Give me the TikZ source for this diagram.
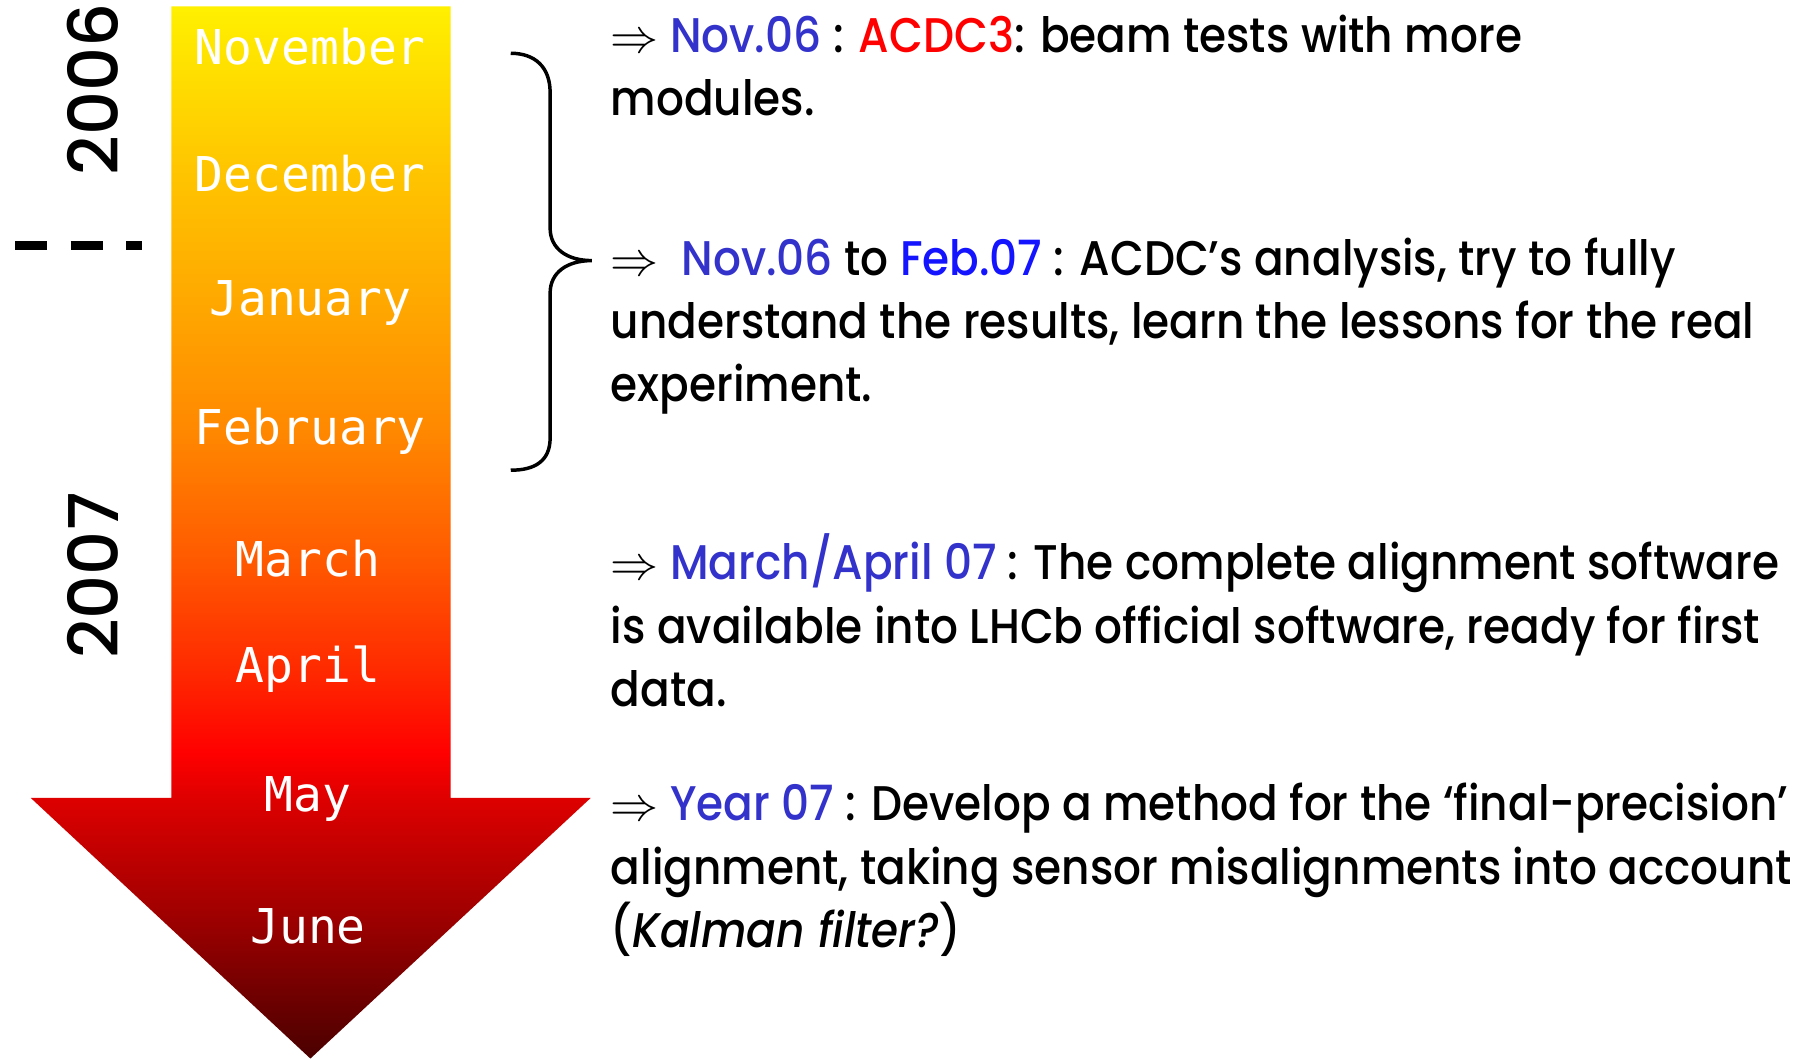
\documentclass[tikz,border=0pt]{standalone}
\usepackage{fontspec}
\setmainfont{Poppins}[UprightFont=* Medium, ItalicFont=* Medium Italic, FakeStretch=0.9]
\newfontfamily\monthfont{DejaVu Sans Mono}
\newfontfamily\yearfont{Poppins Medium}
\usetikzlibrary{positioning}

\definecolor{date_blue}{RGB}{51,51,204}
\definecolor{feb_blue}{RGB}{20,20,255}
\definecolor{acdc_red}{RGB}{255,0,0}
\definecolor{shade_tip}{RGB}{74,0,0}
\definecolor{shade_june}{RGB}{153,0,0}
\definecolor{shade_may}{RGB}{221,0,0}
\definecolor{shade_red}{RGB}{255,0,0}
\definecolor{shade_april}{RGB}{255,42,0}
\definecolor{shade_march}{RGB}{255,90,0}
\definecolor{shade_feb}{RGB}{255,136,0}
\definecolor{shade_jan}{RGB}{255,168,0}
\definecolor{shade_dec}{RGB}{255,196,0}
\definecolor{shade_top}{RGB}{255,240,0}

\pgfdeclareverticalshading{timeline_shade}{100bp}{color(0bp)=(shade_tip); color(25bp)=(shade_tip); color(31.3bp)=(shade_june); color(37.3bp)=(shade_may); color(39.5bp)=(shade_red); color(43.5bp)=(shade_april); color(48.8bp)=(shade_march); color(54.8bp)=(shade_feb); color(60.9bp)=(shade_jan); color(67bp)=(shade_dec); color(75bp)=(shade_top); color(100bp)=(shade_top)}

\begin{document}
\begin{tikzpicture}[x=0.5pt, y=-0.5pt,
    month_label/.style={text=white, font=\monthfont\fontsize{20.7}{24}\selectfont, inner sep=0pt},
    year_label/.style={rotate=90, font=\yearfont\fontsize{29.7}{32}\selectfont, inner sep=0pt},
    note_text/.style={anchor=base west, align=left, inner sep=0pt, font=\fontsize{21}{27.35}\selectfont}]

    \useasboundingbox (0,0) rectangle (1568,915);

    % --- Begin Arrow ---
    \shade[shading=timeline_shade] (148,5.4) -- (389,5.4) -- (389,689) -- (510,689)
        -- (268,914) -- (26.6,689) -- (148,689) -- cycle;

    \node [month_label] (November) at (268,40) {November};
    \node [month_label] (December) at (268,150) {December};
    \node [month_label] (January) at (268,262) {January};
    \node [month_label] (February) at (268,372) {February};
    \node [month_label] (March) at (266,482) {March};
    \node [month_label] (April) at (266,578) {April};
    \node [month_label] (May) at (266,690) {May};
    \node [month_label] (June) at (266,800) {June};
    % --- End Arrow ---

    % --- Begin Years ---
    \node [year_label] (year_2006) at (80,77) {2006};
    \node [year_label] (year_2007) at (80,497) {2007};

    % Split between the two years.
    \coordinate (split_left) at (13,212);
    \coordinate (split_right) at (123,212);
    \draw [line width=3.5pt, dash pattern=on 14pt off 10pt] (split_left) -- (split_right);
    % --- End Years ---

    % --- Begin Brace ---
    \coordinate (brace_top) at (441,46);
    \coordinate (brace_tip) at (511,225);
    \coordinate (brace_bottom) at (441,406);
    \draw [line width=1.5pt] (brace_top) .. controls +(21,0) and +(0,-22) .. (475,80) -- (475,197)
        .. controls +(0,18) and +(-21,0) .. (brace_tip)
        .. controls +(-21,0) and +(0,-18) .. (475,253) -- (475,378)
        .. controls +(0,20) and +(21,0) .. (brace_bottom);
    % --- End Brace ---

    % --- Begin Notes ---
    % (the base of each note is the baseline of its last line)
    \node [note_text] (nov_note) at (527,99.7) {
        $\Rightarrow$ \textcolor{date_blue}{Nov.06} : \textcolor{acdc_red}{ACDC3}: beam tests with more \\
        modules.
    };
    \node [note_text] (analysis_note) at (527,347) {
        $\Rightarrow$\ \ \textcolor{date_blue}{Nov.06} to \textcolor{feb_blue}{Feb.07} : ACDC’s analysis, try to fully \\
        understand the results, learn the lessons for the real \\
        experiment.
    };
    \node [note_text] (software_note) at (527,610) {
        $\Rightarrow$ \textcolor{date_blue}{March/April 07} : The complete alignment software \\
        is available into LHCb official software, ready for first \\
        data.
    };
    \node [note_text] (year_note) at (527,818) {
        $\Rightarrow$ \textcolor{date_blue}{Year 07} : Develop a method for the ‘final-precision’ \\
        alignment, taking sensor misalignments into account \\
        (\textit{Kalman filter?})
    };
    % --- End Notes ---

\end{tikzpicture}
\end{document}
